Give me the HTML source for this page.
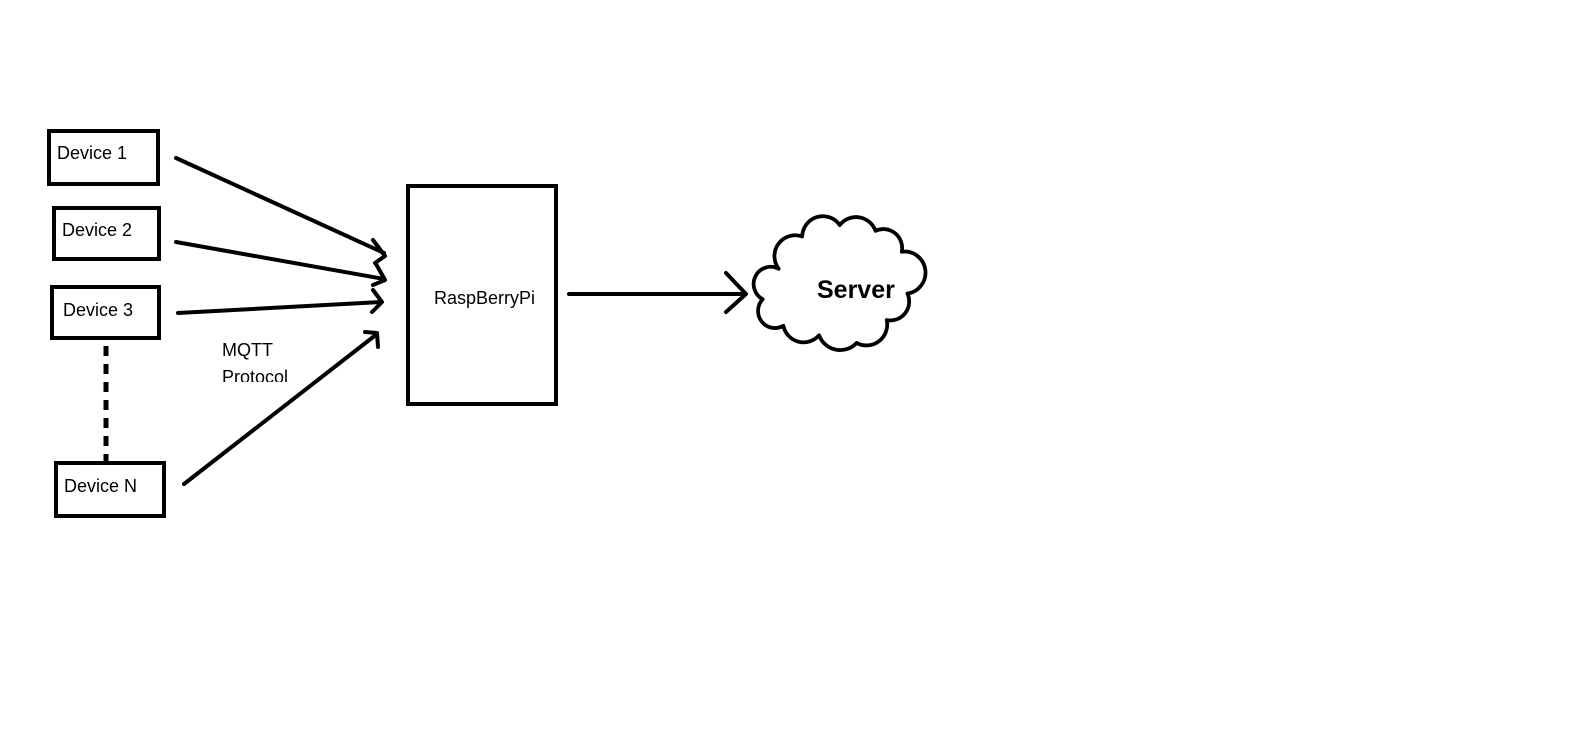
<!DOCTYPE html>
<html><head><style>
html,body{margin:0;padding:0;background:#fff;}
svg{display:block}
text{font-family:"Liberation Sans",sans-serif;fill:#000}
</style></head><body>
<svg width="1572" height="749" viewBox="0 0 1572 749" xmlns="http://www.w3.org/2000/svg">
<g fill="none" stroke="#000" stroke-width="4">
<rect x="49" y="131" width="109" height="53"/>
<rect x="54" y="208" width="105" height="51"/>
<rect x="52" y="287" width="107" height="51"/>
<rect x="56" y="463" width="108" height="53"/>
<rect x="408" y="186" width="148" height="218"/>
</g>
<line x1="106" y1="346" x2="106" y2="462" stroke="#000" stroke-width="5" stroke-dasharray="10,8"/>
<g fill="none" stroke="#000" stroke-width="4" stroke-linecap="round" stroke-linejoin="round">
<line x1="176" y1="158" x2="384" y2="253"/>
<polyline points="373,240 385,256 375,263"/>
<line x1="176" y1="242" x2="384" y2="279"/>
<polyline points="376,264 385,280 373,285"/>
<line x1="178" y1="313" x2="381" y2="302"/>
<polyline points="373,290 382,302 372,312"/>
<line x1="184" y1="484" x2="377" y2="334"/>
<polyline points="365,332 377,333 378,347"/>
<line x1="569" y1="294" x2="745" y2="294"/>
<polyline points="726,273 746,294 726,312"/>
<path transform="translate(836,284) scale(0.94,0.95) translate(-836,-284)" d="M775,268 A22 22 0 0 1 800,234 A22 22 0 0 1 840,222 A22 22 0 0 1 878,228 A20 20 0 0 1 906,250 A16 16 0 0 1 912,294 A20 20 0 0 1 890,322 A22 22 0 0 1 858,346 A24 24 0 0 1 818,338 A22 22 0 0 1 780,328 A18 18 0 0 1 758,300 A16 16 0 0 1 775,268 Z"/>
</g>
<g font-size="18">
<text x="57" y="159">Device 1</text>
<text x="62" y="236">Device 2</text>
<text x="63" y="316">Device 3</text>
<text x="64" y="492">Device N</text>
<text x="434" y="304">RaspBerryPi</text>
<text x="222" y="356">MQTT</text>
</g>
<svg x="0" y="360" width="400" height="22" overflow="hidden"><text x="222" y="23" font-size="18" font-family="Liberation Sans,sans-serif">Protocol</text></svg>
<text x="817" y="298" font-size="25" font-weight="bold">Server</text>
</svg>
</body></html>
